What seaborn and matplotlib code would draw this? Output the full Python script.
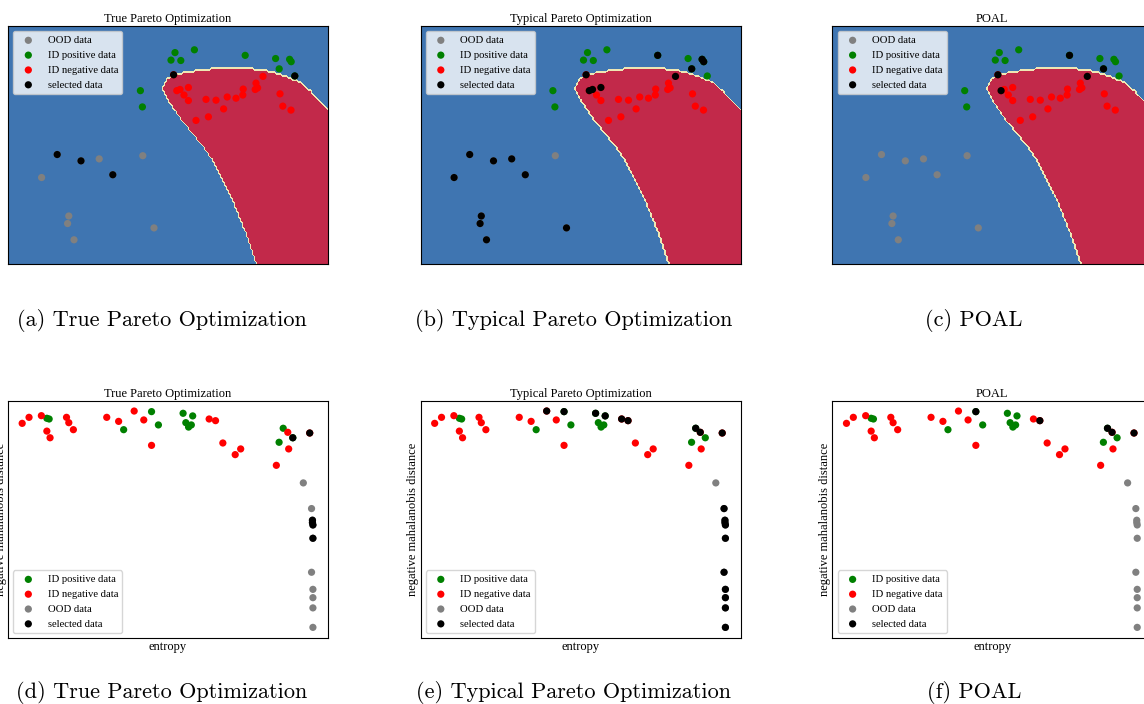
import numpy as np
import matplotlib
matplotlib.use("Agg")
import matplotlib.pyplot as plt
from matplotlib.path import Path
import seaborn as sns

# ---------------------------------------------------------------------------
# Feature space (top row): two-dimensional toy data and the learned boundary
# ---------------------------------------------------------------------------
# boundary of the "negative" decision region (closed towards the lower right)
boundary_x = [2.22, 1.97, 1.63, 1.22, 0.97, 0.63, 0.30, 0.01, -0.10, -0.12, -0.03, 0.22,
              0.80, 1.30, 1.97, 2.47, 2.88, 3.30, 3.55, 3.80, 4.01, 4.60, 4.60, 2.30]
boundary_y = [-3.01, -2.23, -1.39, -0.55, -0.13, 0.29, 0.71, 1.14, 1.39, 1.45, 1.64, 1.77,
              1.87, 1.92, 1.92, 1.85, 1.74, 1.56, 1.35, 1.09, 0.87, 0.30, -3.60, -3.60]

top_ood_x = [-3.16, -1.72, -0.63, -2.48, -2.51, -2.35, -0.35, -2.77, -2.175, -1.38]
top_ood_y = [-0.82, -0.35, -0.27, -1.79, -1.98, -2.39, -2.09, -0.24, -0.40, -0.75]

top_pos_x = [0.175, 0.075, 0.32, 0.66, 1.93, 2.69, 3.04, 3.08, 2.78, -0.69, -0.64, 3.17]
top_pos_y = [2.33, 2.14, 2.13, 2.40, 2.26, 2.18, 2.16, 2.10, 1.92, 1.37, 0.96, 1.74]

top_neg_x = [0.14, 0.22, 0.30, 0.51, 0.40, 0.51, 0.95, 1.20, 1.48, 1.70, 1.87, 1.88,
             2.18, 2.24, 2.20, 2.375, 2.80, 2.87, 3.075, 1.39, 1.01, 0.70]
top_neg_y = [1.77, 1.37, 1.40, 1.45, 1.26, 1.12, 1.15, 1.13, 1.21, 1.18, 1.26, 1.41,
             1.40, 1.44, 1.56, 1.73, 1.29, 0.98, 0.88, 0.91, 0.71, 0.62]

# indices of the queried samples for each strategy
top_sel_true = {"ood": [7, 8, 9], "pos": [11], "neg": [0]}
top_sel_typical = {"ood": [0, 1, 3, 4, 5, 6, 7, 8, 9], "pos": [4, 6, 7, 8], "neg": [0, 1, 2, 3, 15]}
top_sel_poal = {"ood": [], "pos": [4, 8], "neg": [0, 1, 15]}

# ---------------------------------------------------------------------------
# Objective space (bottom row): entropy vs. negative Mahalanobis distance
# ---------------------------------------------------------------------------
bot_pos_x = [0.085, 0.090, 0.253, 0.314, 0.329, 0.383, 0.389, 0.395, 0.401, 0.404, 0.602, 0.593, 0.623]
bot_pos_y = [-0.74, -0.77, -1.22, -0.46, -1.02, -0.53, -0.925, -1.11, -1.02, -0.64, -1.16, -1.75, -1.56]

bot_neg_x = [0.031, 0.046, 0.073, 0.085, 0.092, 0.128, 0.133, 0.143, 0.216, 0.242, 0.276,
             0.297, 0.314, 0.440, 0.454, 0.470, 0.497, 0.509, 0.587, 0.612, 0.614, 0.660]
bot_neg_y = [-0.953, -0.70, -0.63, -1.28, -1.56, -0.70, -0.925, -1.22, -0.70, -0.87, -0.435,
             -0.81, -1.88, -0.77, -0.84, -1.78, -2.27, -2.03, -2.72, -1.33, -2.03, -1.36]

bot_ood_x = [0.646, 0.664, 0.666, 0.666, 0.667, 0.667, 0.664, 0.667, 0.667, 0.667, 0.667]
bot_ood_y = [-3.46, -4.54, -5.03, -5.13, -5.23, -5.79, -7.22, -7.94, -8.29, -8.72, -9.54]

bot_sel_true = {"ood": [2, 3, 4, 5], "pos": [12], "neg": [21]}
bot_sel_typical = {"ood": [1, 2, 3, 4, 5, 6, 7, 8, 9, 10], "pos": [3, 5, 9, 10], "neg": [10, 13, 14, 19, 21]}
bot_sel_poal = {"ood": [], "pos": [3, 10], "neg": [14, 19, 21]}

methods = ["True Pareto Optimization", "Typical Pareto Optimization", "POAL"]
captions_top = ["(a) True Pareto Optimization", "(b) Typical Pareto Optimization", "(c) POAL"]
captions_bot = ["(d) True Pareto Optimization", "(e) Typical Pareto Optimization", "(f) POAL"]

BLUE = "#3F75B1"
RED = "#C2294A"
CREAM = "#EEE7B4"
PT = 27

plt.rcParams["font.family"] = ["Liberation Serif", "DejaVu Serif"]


def gather(sel, groups):
    xs, ys = [], []
    for key in ("ood", "pos", "neg"):
        gx, gy = groups[key]
        xs += [gx[i] for i in sel[key]]
        ys += [gy[i] for i in sel[key]]
    return xs, ys


# rasterised decision region on a coarse grid
grid_x = np.arange(-4.05, 4.10, 0.05)
grid_y = np.arange(-3.05, 3.10, 0.05)
GX, GY = np.meshgrid(grid_x, grid_y)
region_path = Path(np.column_stack([boundary_x, boundary_y]))
region = region_path.contains_points(np.column_stack([GX.ravel(), GY.ravel()])).reshape(GX.shape).astype(float)

top_groups = {"ood": (top_ood_x, top_ood_y), "pos": (top_pos_x, top_pos_y), "neg": (top_neg_x, top_neg_y)}
bot_groups = {"ood": (bot_ood_x, bot_ood_y), "pos": (bot_pos_x, bot_pos_y), "neg": (bot_neg_x, bot_neg_y)}


def dot(ax, x, y, color, label):
    sns.scatterplot(x=x, y=y, color=color, s=PT, linewidth=0, edgecolor="none",
                    label=label, ax=ax, legend=False)


def draw_top(ax, title, sel):
    ax.contourf(GX, GY, region, levels=[-0.5, 0.1, 0.9, 1.5], colors=[BLUE, CREAM, RED], zorder=0)
    dot(ax, top_ood_x, top_ood_y, "gray", "OOD data")
    dot(ax, top_pos_x, top_pos_y, "green", "ID positive data")
    dot(ax, top_neg_x, top_neg_y, "red", "ID negative data")
    sx, sy = gather(sel, top_groups)
    dot(ax, sx, sy, "black", "selected data")
    ax.set_xlim(-4, 4)
    ax.set_ylim(-3, 3)
    ax.set_xticks([])
    ax.set_yticks([])
    ax.set_xlabel("")
    ax.set_ylabel("")
    ax.set_title(title, fontsize=9, pad=3)
    ax.legend(loc="upper left", fontsize=7.7)


def draw_bottom(ax, title, sel):
    dot(ax, bot_pos_x, bot_pos_y, "green", "ID positive data")
    dot(ax, bot_neg_x, bot_neg_y, "red", "ID negative data")
    dot(ax, bot_ood_x, bot_ood_y, "gray", "OOD data")
    sx, sy = gather(sel, bot_groups)
    dot(ax, sx, sy, "black", "selected data")
    ax.set_xlim(0, 0.7)
    ax.set_ylim(-10, 0)
    ax.set_xticks([])
    ax.set_yticks([])
    ax.set_title(title, fontsize=9, pad=3)
    ax.set_xlabel("entropy", fontsize=9, labelpad=2)
    ax.set_ylabel("negative mahalanobis distance", fontsize=9, labelpad=1)
    ax.legend(loc="lower left", fontsize=7.7)


W, H = 1144, 704
fig = plt.figure(figsize=(W / 100, H / 100), dpi=100)
lefts = [8, 420.5, 832.3]
caption_centers = [161.5, 574, 974]
panel_w, panel_h = 320, 238

top_sels = [top_sel_true, top_sel_typical, top_sel_poal]
bot_sels = [bot_sel_true, bot_sel_typical, bot_sel_poal]

for i, left in enumerate(lefts):
    ax_t = fig.add_axes([left / W, (H - 264) / H, panel_w / W, panel_h / H])
    draw_top(ax_t, methods[i], top_sels[i])
    ax_b = fig.add_axes([left / W, (H - 638.3) / H, panel_w / W, 237.6 / H])
    draw_bottom(ax_b, methods[i], bot_sels[i])
    cx = caption_centers[i] / W
    fig.text(cx, 1 - 320 / H, captions_top[i], ha="center", va="center",
             fontsize=16, family="cmr10")
    fig.text(cx, 1 - 692 / H, captions_bot[i], ha="center", va="center",
             fontsize=16, family="cmr10")

fig.savefig("out.png", dpi=100)
